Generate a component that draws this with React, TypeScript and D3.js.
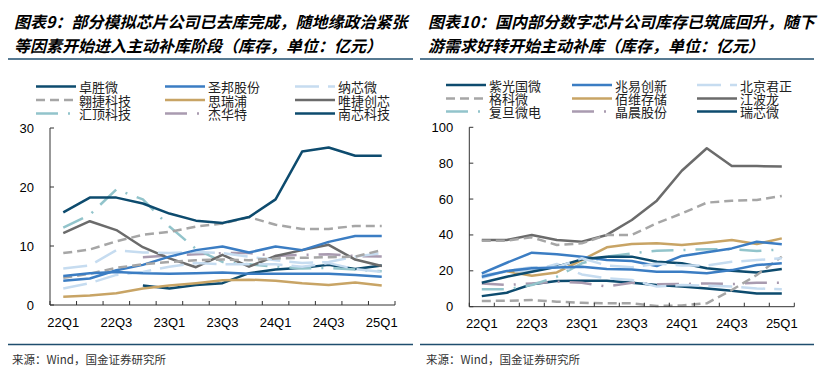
import React from 'react';
import * as d3 from 'd3';

const QUARTERS = ['22Q1','22Q2','22Q3','22Q4','23Q1','23Q2','23Q3','23Q4','24Q1','24Q2','24Q3','24Q4','25Q1'];
const X_TICK_LABELS = ['22Q1','22Q3','23Q1','23Q3','24Q1','24Q3','25Q1'];
const LEFT_Y_TICKS = [0, 10, 20, 30];
const RIGHT_Y_TICKS = [0, 20, 40, 60, 80, 100];

const LEFT_TITLE = ['图表9：部分模拟芯片公司已去库完成，随地缘政治紧张', '等因素开始进入主动补库阶段（库存，单位：亿元）'];
const RIGHT_TITLE = ['图表10：国内部分数字芯片公司库存已筑底回升，随下', '游需求好转开始主动补库（库存，单位：亿元）'];
const SOURCE = '来源：Wind，国金证券研究所';

// Left chart series (analog chips)
const zhuoshengwei = [15.7,18.2,18.2,17.2,15.5,14.3,13.9,14.9,17.9,26.0,26.7,25.3,25.3];
const shengbang = [4.1,4.5,5.9,6.8,8.2,9.3,9.9,8.9,9.9,9.3,10.7,11.7,11.7];
const naxinwei = [6.2,6.7,9.3,8.9,8.8,9.0,8.8,8.2,7.6,7.1,7.3,8.2,8.8];
const aojie = [8.8,9.4,10.8,11.9,12.4,13.3,13.8,14.9,13.6,12.9,12.9,13.4,13.4];
const siruipu = [1.4,1.6,2.0,2.8,3.3,3.7,4.2,4.3,4.1,3.7,3.4,3.8,3.3];
const weijie = [12.2,14.2,12.7,9.8,7.9,6.4,8.5,6.5,8.3,9.3,10.2,7.7,6.6];
const huiding = [13.1,15.3,19.6,17.9,13.3,9.5,7.3,6.9,6.5,6.2,6.3,6.0,5.7];
const jiehuate = [null,null,null,8.1,8.4,8.6,8.8,8.8,8.3,8.5,8.6,8.3,8.2];
const nanxin = [null,null,null,3.3,2.8,3.4,3.7,5.4,6.0,6.3,6.8,6.1,6.7];
const leftExtraBlue = [4.9,5.4,5.6,5.4,5.3,5.4,5.5,5.3,5.3,5.3,5.3,5.1,4.8];
const leftExtraLight = [2.8,3.7,5.1,5.6,6.5,7.1,6.9,6.9,6.9,6.5,7.1,6.1,5.6];
const leftExtraGray = [4.6,5.3,6.3,6.9,7.3,7.6,7.7,7.6,7.9,8.0,8.1,8.2,9.3];

// Right chart series (digital chips)
const ziguang = [13.4,16.7,19.5,22.3,26.4,27.9,27.9,25.1,24.2,21.4,20.1,19.1,21.0];
const zhaoyi = [18.6,24.5,30.1,29.2,27.9,26.0,25.5,22.7,28.3,30.3,32.5,36.2,34.8];
const beijingjunzheng = [17.7,19.5,20.0,23.8,18.0,15.8,14.9,11.2,12.1,11.7,11.2,10.2,9.7];
const gekewei = [36.8,36.8,38.7,34.4,35.3,40.0,40.0,46.5,52.0,58.0,59.1,59.5,61.7];
const baiwei = [null,19.8,17.3,19.1,26.0,33.1,34.9,35.3,34.4,35.7,37.2,34.9,38.1];
const jiangbolong = [37.2,37.2,40.0,37.2,36.2,40.0,48.3,59.1,75.8,88.3,78.4,78.4,78.1];
const fudan = [9.7,9.7,12.1,16.7,24.2,27.9,29.7,31.2,31.6,32.0,32.0,31.0,32.0];
const jingchen = [13.0,12.1,13.0,13.9,13.4,11.2,13.4,12.5,12.6,13.0,12.6,13.4,13.4];
const ruixinwei = [5.9,7.8,12.5,14.3,14.5,14.5,13.4,12.1,11.2,10.2,8.9,7.4,7.4];
const rightExtraBlue = [16.7,19.9,21.4,21.9,22.3,21.0,20.8,19.5,19.5,18.6,20.4,23.2,24.2];
const rightExtraLight = [16.0,20.0,22.0,22.0,27.0,23.0,22.0,24.0,23.0,23.0,25.0,26.0,27.0];
const rightExtraGray = [3.2,3.3,3.7,2.8,2.2,1.9,1.9,0.4,0.7,1.9,9.3,17.7,27.9];

type Style = { color: string; dash?: string };
const NAVY: Style = { color: '#0d4b6e' };
const BLUE: Style = { color: '#3b7dc3' };
const LIGHT: Style = { color: '#c6dcf0', dash: '24,9' };
const GRAY: Style = { color: '#a6a6a6', dash: '9,5' };
const TAN: Style = { color: '#c8a465' };
const DARK: Style = { color: '#6b6b6b' };
const TEAL: Style = { color: '#92c4cb', dash: '22,10,2,10' };
const PURPLE: Style = { color: '#a99bb0', dash: '22,10,2,10' };

type Series = { name: string; values: (number | null)[]; style: Style; legend: boolean };

const leftSeries: Series[] = [
  { name: '卓胜微', values: zhuoshengwei, style: NAVY, legend: true },
  { name: '圣邦股份', values: shengbang, style: BLUE, legend: true },
  { name: '纳芯微', values: naxinwei, style: LIGHT, legend: true },
  { name: '翱捷科技', values: aojie, style: GRAY, legend: true },
  { name: '思瑞浦', values: siruipu, style: TAN, legend: true },
  { name: '唯捷创芯', values: weijie, style: DARK, legend: true },
  { name: '汇顶科技', values: huiding, style: TEAL, legend: true },
  { name: '杰华特', values: jiehuate, style: PURPLE, legend: true },
  { name: '南芯科技', values: nanxin, style: NAVY, legend: true },
  { name: '其他1', values: leftExtraBlue, style: BLUE, legend: false },
  { name: '其他2', values: leftExtraLight, style: LIGHT, legend: false },
  { name: '其他3', values: leftExtraGray, style: GRAY, legend: false },
];

const rightSeries: Series[] = [
  { name: '紫光国微', values: ziguang, style: NAVY, legend: true },
  { name: '兆易创新', values: zhaoyi, style: BLUE, legend: true },
  { name: '北京君正', values: beijingjunzheng, style: LIGHT, legend: true },
  { name: '格科微', values: gekewei, style: GRAY, legend: true },
  { name: '佰维存储', values: baiwei, style: TAN, legend: true },
  { name: '江波龙', values: jiangbolong, style: DARK, legend: true },
  { name: '复旦微电', values: fudan, style: TEAL, legend: true },
  { name: '晶晨股份', values: jingchen, style: PURPLE, legend: true },
  { name: '瑞芯微', values: ruixinwei, style: NAVY, legend: true },
  { name: '其他1', values: rightExtraBlue, style: BLUE, legend: false },
  { name: '其他2', values: rightExtraLight, style: LIGHT, legend: false },
  { name: '其他3', values: rightExtraGray, style: GRAY, legend: false },
];

const CJK = '"Noto Sans CJK SC", "Noto Sans", sans-serif';
const LATIN = '"Liberation Sans", Arial, sans-serif';

type PanelProps = {
  ox: number;
  title: string[];
  series: Series[];
  yMax: number;
  yTicks: number[];
  plot: { x0: number; x1: number; yTop: number; yBottom: number };
  legend: { lineX: number[]; rows: number[] };
  rule: { x0: number; x1: number };
};

function Panel({ ox, title, series, yMax, yTicks, plot, legend, rule }: PanelProps) {
  const x = d3.scaleBand<string>().domain(QUARTERS).range([plot.x0, plot.x1]).padding(0);
  const y = d3.scaleLinear().domain([0, yMax]).range([plot.yBottom, plot.yTop]);
  const cx = (q: string) => (x(q) as number) + x.bandwidth() / 2;
  const line = d3
    .line<number | null>()
    .defined((d) => d !== null)
    .x((_, i) => cx(QUARTERS[i]))
    .y((d) => y(d as number));

  const tickXs = QUARTERS.map((q) => x(q) as number).concat([plot.x1]);
  const drawOrder = [...series.filter((s) => !s.legend), ...series.filter((s) => s.legend)].reverse();
  const legendItems = series.filter((s) => s.legend);

  return (
    <g>
      {title.map((t, i) => (
        <text key={i} x={ox + 14} y={28 + i * 24} fontFamily={CJK} fontSize={16} fontWeight={700} fontStyle="italic" fill="#000">
          {t}
        </text>
      ))}
      <line x1={rule.x0} x2={rule.x1} y1={59} y2={59} stroke="#1f4e6e" strokeWidth={1.5} />
      {/* legend */}
      {legendItems.map((s, i) => {
        const col = i % 3;
        const row = Math.floor(i / 3);
        const lx = legend.lineX[col];
        const ly = legend.rows[row];
        return (
          <g key={s.name}>
            <line x1={lx} x2={lx + 40} y1={ly} y2={ly} stroke={s.style.color} strokeWidth={2.5} strokeDasharray={s.style.dash} />
            <text x={lx + 43} y={ly} dominantBaseline="central" fontFamily={CJK} fontSize={13} fill="#222">
              {s.name}
            </text>
          </g>
        );
      })}
      {/* lines */}
      {drawOrder.map((s, i) => (
        <path key={i} d={line(s.values) || ''} fill="none" stroke={s.style.color} strokeWidth={2.5} strokeDasharray={s.style.dash} strokeLinejoin="round" />
      ))}
      {/* axes */}
      <line x1={plot.x0} x2={plot.x0} y1={y(yMax)} y2={plot.yBottom} stroke="#333" strokeWidth={1} />
      <line x1={plot.x0} x2={plot.x1} y1={plot.yBottom} y2={plot.yBottom} stroke="#333" strokeWidth={1} />
      {yTicks.map((t) => (
        <g key={t}>
          <line x1={plot.x0} x2={plot.x0 + 4} y1={y(t)} y2={y(t)} stroke="#333" strokeWidth={1} />
          <text x={plot.x0 - 16} y={y(t)} textAnchor="end" dominantBaseline="central" fontFamily={LATIN} fontSize={13} fill="#000">
            {t}
          </text>
        </g>
      ))}
      {tickXs.map((tx, i) => (
        <line key={i} x1={tx} x2={tx} y1={plot.yBottom} y2={plot.yBottom - 4} stroke="#333" strokeWidth={1} />
      ))}
      {X_TICK_LABELS.map((q) => (
        <text key={q} x={cx(q)} y={plot.yBottom + 17} textAnchor="middle" dominantBaseline="central" fontFamily={LATIN} fontSize={13} fill="#000">
          {q}
        </text>
      ))}
      <line x1={rule.x0} x2={rule.x1} y1={344.5} y2={344.5} stroke="#1f4e6e" strokeWidth={1.5} />
      <text x={ox + 12} y={364} fontFamily={CJK} fontSize={11.5} fill="#333">
        {SOURCE}
      </text>
    </g>
  );
}

export default function App() {
  return (
    <svg width={828} height={376} style={{ position: 'absolute', left: 0, top: 0, background: '#fff' }}>
      <rect width={828} height={376} fill="#fff" />
      <Panel
        ox={0}
        title={LEFT_TITLE}
        series={leftSeries}
        yMax={30}
        yTicks={LEFT_Y_TICKS}
        plot={{ x0: 50, x1: 395, yTop: 128, yBottom: 305 }}
        legend={{ lineX: [36, 165, 295], rows: [86.5, 100, 113.5] }}
        rule={{ x0: 8, x1: 413 }}
      />
      <Panel
        ox={414}
        title={RIGHT_TITLE}
        series={rightSeries}
        yMax={100}
        yTicks={RIGHT_Y_TICKS}
        plot={{ x0: 469.3, x1: 794.3, yTop: 127.3, yBottom: 306.7 }}
        legend={{ lineX: [446, 572, 697], rows: [85, 98.5, 111.5] }}
        rule={{ x0: 420, x1: 814 }}
      />
    </svg>
  );
}
